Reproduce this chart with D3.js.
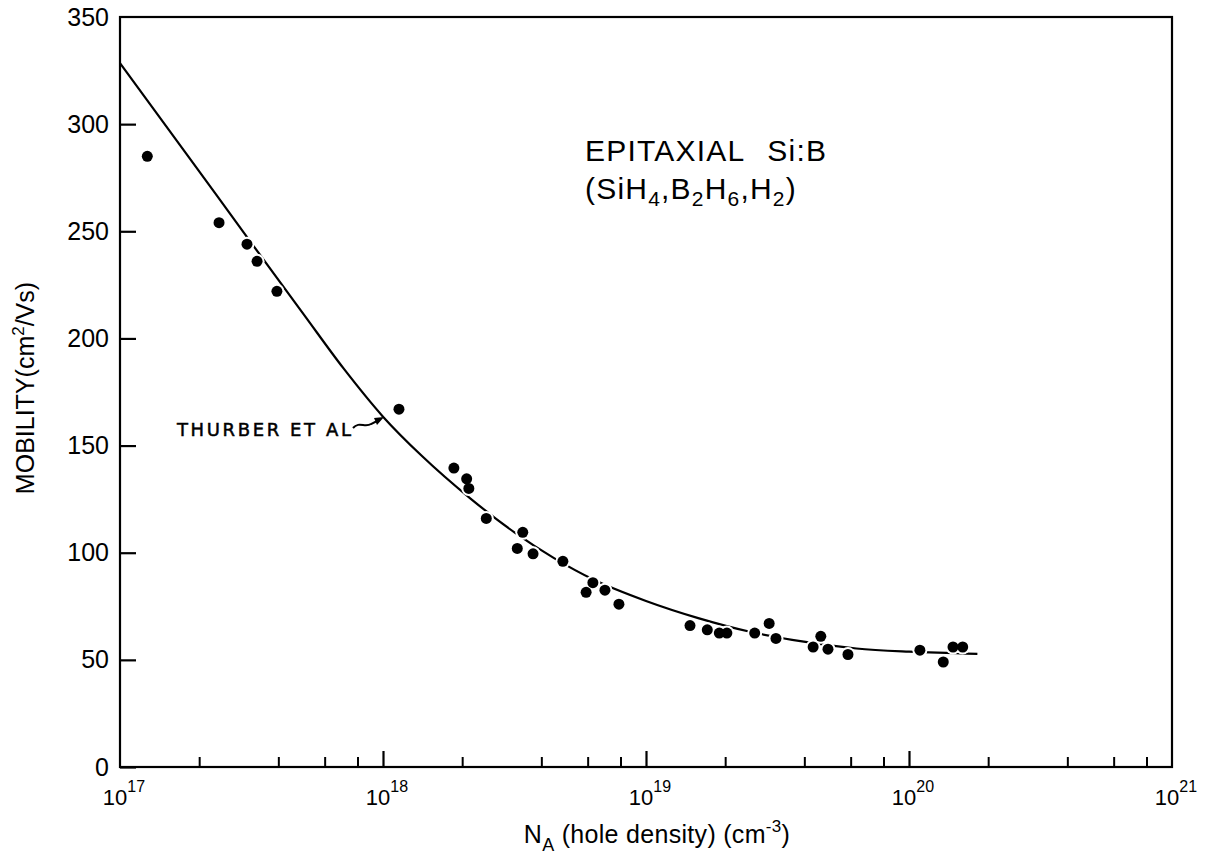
<!DOCTYPE html>
<html>
<head>
<meta charset="utf-8">
<script src="https://cdn.jsdelivr.net/npm/d3@7"></script>
<style>
  body { margin: 0; background: #fff; }
  svg { display: block; font-family: "Liberation Sans", Arial, sans-serif; }
</style>
</head>
<body>
<div id="chart"></div>
<script>
// hole density (cm^-3) and mobility (cm2/Vs) of the measured points
const dotDensity = [1.27e17, 2.38e17, 3.04e17, 3.32e17, 3.95e17, 1.15e18, 1.86e18, 2.08e18, 2.12e18,
  2.47e18, 3.24e18, 3.40e18, 3.72e18, 4.83e18, 5.92e18, 6.28e18, 6.98e18, 7.89e18,
  1.47e19, 1.71e19, 1.90e19, 2.03e19, 2.59e19, 2.94e19, 3.12e19, 4.32e19, 4.62e19, 4.92e19, 5.86e19,
  1.10e20, 1.35e20, 1.47e20, 1.60e20];
const dotMobility = [285, 254, 244, 236, 222, 167, 139.5, 134.5, 130,
  116, 102, 109.5, 99.5, 96, 81.5, 86, 82.5, 76,
  66, 64, 62.5, 62.5, 62.5, 67, 60, 56, 61, 55, 52.5,
  54.5, 49, 56, 56];

// Thurber et al. curve
const curveDensity = [1e17, 1.78e17, 3.16e17, 5.01e17, 7.08e17, 1e18, 1.41e18, 2.14e18, 3.16e18,
  4.47e18, 6.31e18, 1e19, 1.58e19, 2.51e19, 3.98e19, 6.31e19, 1e20, 1.82e20];
const curveMobility = [328.5, 286.5, 244.5, 211, 186, 163.5, 145, 125.5, 109.5,
  97.5, 87.5, 77.5, 69.5, 63, 58.5, 55.3, 53.8, 52.8];

const xDecades = [17, 18, 19, 20, 21];
const minorSteps = [2, 4, 6, 8];
const yTicks = [0, 50, 100, 150, 200, 250, 300, 350];

const plot = {left: 120, right: 1172, top: 17, bottom: 767};

const svg = d3.select("#chart").append("svg")
  .attr("width", 1210)
  .attr("height", 864);

const x = d3.scaleLog().domain([1e17, 1e21]).range([plot.left, plot.right]);
const y = d3.scaleLinear().domain([0, 350]).range([plot.bottom, plot.top]);

// y axis, ticks pointing inward
const yAxis = svg.append("g")
  .attr("transform", `translate(${plot.left},0)`)
  .call(d3.axisLeft(y).tickValues(yTicks).tickSize(-16).tickPadding(11).tickFormat(d3.format("d")));
yAxis.select(".domain").remove();
yAxis.selectAll(".tick line").attr("stroke-width", 2.2);
yAxis.selectAll(".tick text").attr("font-size", 25).attr("fill", "#000")
  .attr("font-family", "Liberation Sans, Arial, sans-serif");
yAxis.selectAll(".tick").filter(d => d === 350).select("line").remove();

// x axis: major and minor ticks
const majorVals = xDecades.map(e => Math.pow(10, e));
const minorVals = xDecades.slice(0, -1).flatMap(e => minorSteps.map(m => m * Math.pow(10, e)));

const xMajor = svg.append("g")
  .attr("transform", `translate(0,${plot.bottom})`)
  .call(d3.axisBottom(x).tickValues(majorVals.slice(1, -1)).tickSize(-16).tickFormat(""));
xMajor.select(".domain").remove();
xMajor.selectAll(".tick line").attr("stroke-width", 2.2);

const xMinor = svg.append("g")
  .attr("transform", `translate(0,${plot.bottom})`)
  .call(d3.axisBottom(x).tickValues(minorVals).tickSize(-10).tickFormat(""));
xMinor.select(".domain").remove();
xMinor.selectAll(".tick line").attr("stroke-width", 2);

const xLabels = svg.append("g")
  .selectAll("text")
  .data(xDecades)
  .join("text")
    .attr("x", d => x(Math.pow(10, d)) + 4)
    .attr("y", 805)
    .attr("text-anchor", "middle")
    .attr("font-size", 22);
xLabels.append("tspan").text("10");
xLabels.append("tspan").attr("dy", -13).attr("font-size", 16).text(d => d);

// frame
svg.append("rect")
  .attr("x", plot.left).attr("y", plot.top)
  .attr("width", plot.right - plot.left).attr("height", plot.bottom - plot.top)
  .attr("fill", "none").attr("stroke", "#000").attr("stroke-width", 2.2);

// curve
const curve = curveDensity.map((d, i) => [d, curveMobility[i]]);
svg.append("path")
  .datum(curve)
  .attr("fill", "none")
  .attr("stroke", "#000")
  .attr("stroke-width", 2.2)
  .attr("d", d3.line().x(d => x(d[0])).y(d => y(d[1])).curve(d3.curveMonotoneX));

// dots: white halo first so the line breaks around them
const dots = dotDensity.map((d, i) => [d, dotMobility[i]]);
svg.append("g")
  .selectAll("circle")
  .data(dots)
  .join("circle")
    .attr("cx", d => x(d[0]))
    .attr("cy", d => y(d[1]))
    .attr("r", 7.5)
    .attr("fill", "#fff");
svg.append("g")
  .selectAll("circle")
  .data(dots)
  .join("circle")
    .attr("cx", d => x(d[0]))
    .attr("cy", d => y(d[1]))
    .attr("r", 5.5)
    .attr("fill", "#000");

// annotations
const title = svg.append("g").attr("font-size", 30).attr("letter-spacing", 1.2);
const line1 = title.append("text").attr("x", 585).attr("y", 161);
line1.append("tspan").text("EPITAXIAL");
line1.append("tspan").attr("dx", 22).text("Si:B");
const formula = title.append("text").attr("x", 585).attr("y", 199);
[["(SiH", ""], ["4", "sub"], [",B", ""], ["2", "sub"], ["H", ""], ["6", "sub"], [",H", ""], ["2", "sub"], [")", ""]]
  .forEach(([t, k], i, arr) => {
    const prev = i > 0 ? arr[i - 1][1] : "";
    formula.append("tspan")
      .attr("dy", k === "sub" ? 7 : (prev === "sub" ? -7 : 0))
      .attr("font-size", k === "sub" ? 21 : 30)
      .text(t);
  });

svg.append("text")
  .attr("x", 177).attr("y", 436)
  .attr("font-size", 18)
  .attr("font-family", "DejaVu Sans, sans-serif")
  .attr("stroke", "#000").attr("stroke-width", 0.5)
  .attr("textLength", 174)
  .attr("lengthAdjust", "spacing")
  .attr("xml:space", "preserve")
  .text("THURBER ET AL");

svg.append("path")
  .attr("d", "M353,428 C359,421 365,428 371,424 L379,420")
  .attr("fill", "none").attr("stroke", "#000").attr("stroke-width", 2);
svg.append("path")
  .attr("d", "M384,417 L374,418 L377,425 Z")
  .attr("fill", "#000");

// axis titles
const yTitle = svg.append("text")
  .attr("transform", "translate(34,388) rotate(-90)")
  .attr("text-anchor", "middle")
  .attr("font-size", 25);
yTitle.append("tspan").text("MOBILITY(cm");
yTitle.append("tspan").attr("dy", -10).attr("font-size", 17).text("2");
yTitle.append("tspan").attr("dy", 10).text("/Vs)");

const xTitle = svg.append("text")
  .attr("x", 657).attr("y", 843)
  .attr("text-anchor", "middle")
  .attr("font-size", 25)
  .attr("letter-spacing", 0.3);
xTitle.append("tspan").text("N");
xTitle.append("tspan").attr("dy", 8).attr("font-size", 18).text("A");
xTitle.append("tspan").attr("dy", -8).text(" (hole density) (cm");
xTitle.append("tspan").attr("dy", -11).attr("font-size", 17).text("-3");
xTitle.append("tspan").attr("dy", 11).text(")");
</script>
</body>
</html>
